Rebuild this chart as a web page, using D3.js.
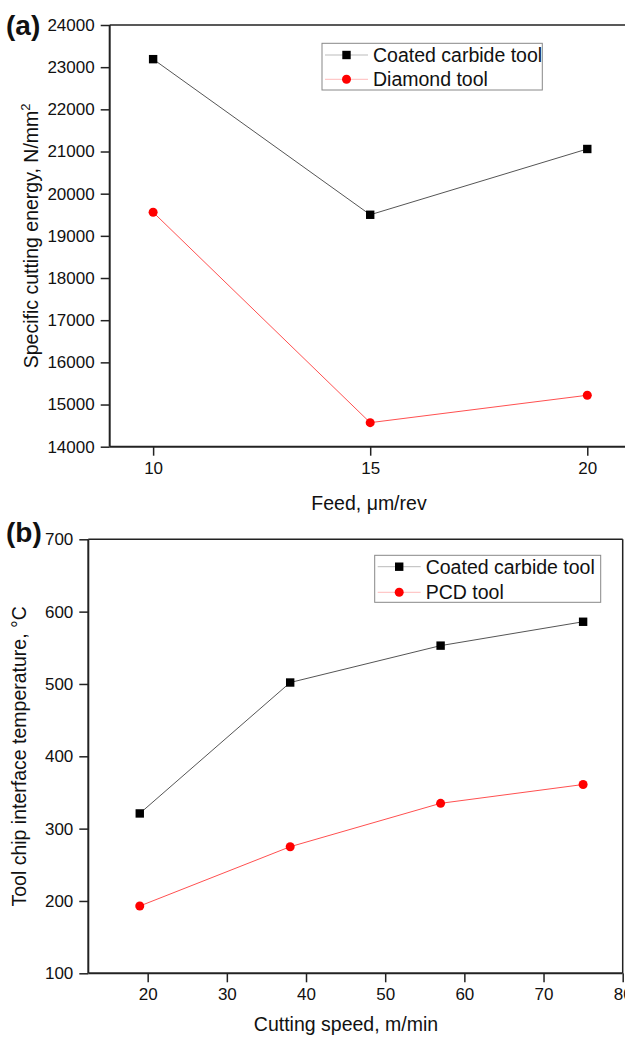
<!DOCTYPE html>
<html>
<head>
<meta charset="utf-8">
<script src="https://cdn.jsdelivr.net/npm/d3@7"></script>
<style>
  body { margin: 0; background: #fff; }
  svg { display: block; font-family: "Liberation Sans", Arial, sans-serif; }
</style>
</head>
<body>
<svg id="chart" width="625" height="1037"></svg>
<script>
// panel (a): feed vs specific cutting energy
var feed = [10, 15, 20];
var energyCarbide = [23190, 19500, 21060];
var energyDiamond = [19560, 14570, 15220];
var feedTicks = [10, 15, 20];
var energyTicks = [14000, 15000, 16000, 17000, 18000, 19000, 20000, 21000, 22000, 23000, 24000];

// panel (b): cutting speed vs interface temperature
var speed = [19, 38, 57, 75];
var tempCarbide = [321, 502, 553, 586];
var tempPCD = [193, 275, 335, 361];
var speedTicks = [20, 30, 40, 50, 60, 70, 80];
var tempTicks = [100, 200, 300, 400, 500, 600, 700];

var svg = d3.select("#chart");

function panel(opt) {
    var x = d3.scaleLinear().domain(opt.xDomain).range([opt.left, opt.right]);
    var y = d3.scaleLinear().domain(opt.yDomain).range([opt.bottom, opt.top]);
    var g = svg.append("g");

    // frame top / right
    g.append("line")
        .attr("x1", opt.left).attr("x2", opt.right)
        .attr("y1", opt.top).attr("y2", opt.top)
        .attr("stroke", "#222").attr("stroke-width", 1.5);
    g.append("line")
        .attr("x1", opt.right).attr("x2", opt.right)
        .attr("y1", opt.top).attr("y2", opt.bottom)
        .attr("stroke", "#222").attr("stroke-width", 1.5);

    var xAxis = g.append("g")
        .attr("transform", "translate(0," + opt.bottom + ")")
        .call(d3.axisBottom(x).tickValues(opt.xTicks).tickFormat(d3.format("d"))
            .tickSize(9).tickSizeOuter(0).tickPadding(6));
    var yAxis = g.append("g")
        .attr("transform", "translate(" + opt.left + ",0)")
        .call(d3.axisLeft(y).tickValues(opt.yTicks).tickFormat(d3.format("d"))
            .tickSize(9).tickSizeOuter(0).tickPadding(6));

    [xAxis, yAxis].forEach(function(a) {
        a.attr("font-size", null).attr("font-family", null);
        a.select(".domain").attr("stroke", "#222").attr("stroke-width", 2);
        a.selectAll(".tick line").attr("stroke", "#222").attr("stroke-width", 1.5);
        a.selectAll(".tick text").attr("fill", "#111")
            .style("font-size", "17px")
            .style("font-family", "'Liberation Sans', Arial, sans-serif");
    });
    xAxis.select(".domain").attr("d", "M" + opt.left + ",0H" + opt.right);
    yAxis.select(".domain").attr("d", "M0," + opt.bottom + "V" + opt.top);

    opt.series.forEach(function(s) {
        var pts = opt.xs.map(function(v, i) { return [v, s.values[i]]; });
        g.append("path")
            .datum(pts)
            .attr("fill", "none")
            .attr("stroke", s.line)
            .attr("stroke-width", 1)
            .attr("d", d3.line().x(function(d) { return x(d[0]); }).y(function(d) { return y(d[1]); }));
        var m = g.append("g").selectAll("g").data(pts).enter();
        if (s.shape == "square") {
            m.append("rect")
                .attr("x", function(d) { return x(d[0]) - 4.2; })
                .attr("y", function(d) { return y(d[1]) - 4.2; })
                .attr("width", 8.4).attr("height", 8.4)
                .attr("fill", s.color);
        } else {
            m.append("circle")
                .attr("cx", function(d) { return x(d[0]); })
                .attr("cy", function(d) { return y(d[1]); })
                .attr("r", 4.5)
                .attr("fill", s.color);
        }
    });

    // legend
    var L = opt.legend;
    g.append("rect")
        .attr("x", L.x).attr("y", L.y).attr("width", L.w).attr("height", L.h)
        .attr("fill", "#fff").attr("stroke", "#888").attr("stroke-width", 1);
    opt.series.forEach(function(s, i) {
        var cy = L.y + L.first + i * L.step;
        g.append("line")
            .attr("x1", L.x + 3).attr("x2", L.x + 46)
            .attr("y1", cy).attr("y2", cy)
            .attr("stroke", s.legendLine).attr("stroke-width", 1);
        if (s.shape == "square") {
            g.append("rect").attr("x", L.x + 24.5 - 4.2).attr("y", cy - 4.2)
                .attr("width", 8.4).attr("height", 8.4).attr("fill", s.color);
        } else {
            g.append("circle").attr("cx", L.x + 24.5).attr("cy", cy).attr("r", 4.5).attr("fill", s.color);
        }
        g.append("text")
            .attr("x", L.x + 51).attr("y", cy + 7)
            .style("font-size", "19.5px").attr("fill", "#111")
            .text(s.name);
    });

    // panel label
    g.append("text")
        .attr("x", 6).attr("y", opt.labelY)
        .style("font-size", "28px").style("font-weight", "bold").attr("fill", "#111")
        .text(opt.label);

    // axis titles
    g.append("text")
        .attr("x", opt.xTitleX).attr("y", opt.xTitleY)
        .attr("text-anchor", "middle")
        .style("font-size", "19.5px").attr("fill", "#111")
        .text(opt.xTitle);
    var yt = g.append("text")
        .attr("transform", "translate(" + opt.yTitleX + "," + ((opt.top + opt.bottom) / 2) + ") rotate(-90)")
        .attr("text-anchor", "middle")
        .style("font-size", "19.5px").attr("fill", "#111");
    yt.append("tspan").text(opt.yTitle);
    if (opt.yTitleSup) {
        yt.append("tspan").attr("dy", -8).style("font-size", "13px").text(opt.yTitleSup);
    }
}

panel({
    left: 109.7, right: 630.7, top: 25, bottom: 446.7,
    xDomain: [9, 21], yDomain: [14000, 24000],
    xTicks: feedTicks, yTicks: energyTicks, xs: feed,
    series: [
        { name: "Coated carbide tool", values: energyCarbide, shape: "square", color: "#000", line: "#555", legendLine: "#bbb" },
        { name: "Diamond tool", values: energyDiamond, shape: "circle", color: "#f00", line: "#ff5050", legendLine: "#fbb" }
    ],
    legend: { x: 322, y: 43.3, w: 220.3, h: 46.7, first: 11.7, step: 24.3 },
    label: "(a)", labelY: 35,
    xTitle: "Feed, \u03bcm/rev", xTitleX: 369, xTitleY: 510,
    yTitle: "Specific cutting energy, N/mm", yTitleSup: "2", yTitleX: 38
});

panel({
    left: 88.3, right: 622.7, top: 539.3, bottom: 973.3,
    xDomain: [12.5, 80], yDomain: [100, 700],
    xTicks: speedTicks, yTicks: tempTicks, xs: speed,
    series: [
        { name: "Coated carbide tool", values: tempCarbide, shape: "square", color: "#000", line: "#555", legendLine: "#bbb" },
        { name: "PCD tool", values: tempPCD, shape: "circle", color: "#f00", line: "#ff5050", legendLine: "#fbb" }
    ],
    legend: { x: 374.7, y: 555.3, w: 226, h: 47, first: 11.4, step: 25.6 },
    label: "(b)", labelY: 542,
    xTitle: "Cutting speed, m/min", xTitleX: 346, xTitleY: 1031,
    yTitle: "Tool chip interface temperature, \u00b0C", yTitleX: 26
});
</script>
</body>
</html>
